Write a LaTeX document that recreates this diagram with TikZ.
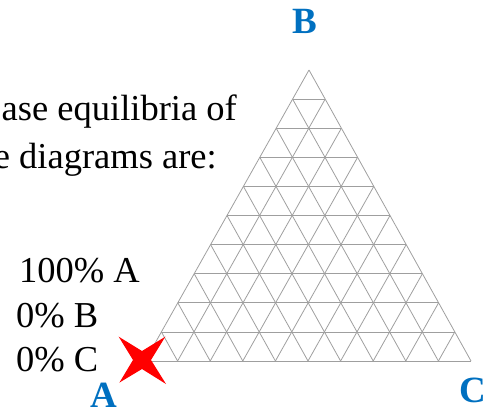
\documentclass[tikz,border=0pt]{standalone}
\usepackage{fontspec}
\setmainfont{Liberation Serif}
\usepackage{xcolor}
\usetikzlibrary{calc}
\definecolor{vertexblue}{HTML}{0070C0}

\begin{document}
\begin{tikzpicture}[x=1pt,y=1pt,
    gridline/.style={draw=gray!75,line width=0.8pt},
    bodytext/.style={font=\rmfamily\fontsize{36.5}{40}\selectfont,inner sep=0pt},
    vertexlabel/.style={font=\rmfamily\bfseries\fontsize{37}{40}\selectfont,text=vertexblue,inner sep=0pt}]
  \useasboundingbox (0,0) rectangle (488,-412);
  \clip (0,0) rectangle (488,-412);
  % corners of the triangle
  \coordinate (A) at (145,-361);
  \coordinate (B) at (309,-70);
  \coordinate (C) at (471,-361);
  % grid, ten divisions per side
  \foreach \i in {0,...,10} {
    \draw[gridline] ($(A)!\i/10!(B)$) -- ($(C)!\i/10!(B)$);
    \draw[gridline] ($(A)!\i/10!(C)$) -- ($(B)!\i/10!(C)$);
    \draw[gridline] ($(B)!\i/10!(A)$) -- ($(C)!\i/10!(A)$);
  }
  \node[vertexlabel] (labB) at (305,-21) {B};
  \node[vertexlabel] (labA) at (104,-395) {A};
  \node[vertexlabel] (labC) at (473,-390) {C};
  % text on the left
  \node[bodytext,anchor=base east] (line1) at (237,-121) {ase equilibria of};
  \node[bodytext,anchor=base east] (line2) at (217,-168) {e diagrams are:};
  \node[bodytext,anchor=base west] (pctA) at (19,-282) {100\% A};
  \node[bodytext,anchor=base west] (pctB) at (16,-327) {0\% B};
  \node[bodytext,anchor=base west] (pctC) at (16,-371) {0\% C};
  % red cross at corner A
  \coordinate (X) at (142,-360);
  \fill[red] ($(X)+(135:33)$) -- ($(X)+(90:9)$) -- ($(X)+(45:33)$)
    -- ($(X)+(0:9)$) -- ($(X)+(-45:34)$) -- ($(X)+(-90:9)$)
    -- ($(X)+(-135:32)$) -- ($(X)+(180:9)$) -- cycle;
\end{tikzpicture}
\end{document}
